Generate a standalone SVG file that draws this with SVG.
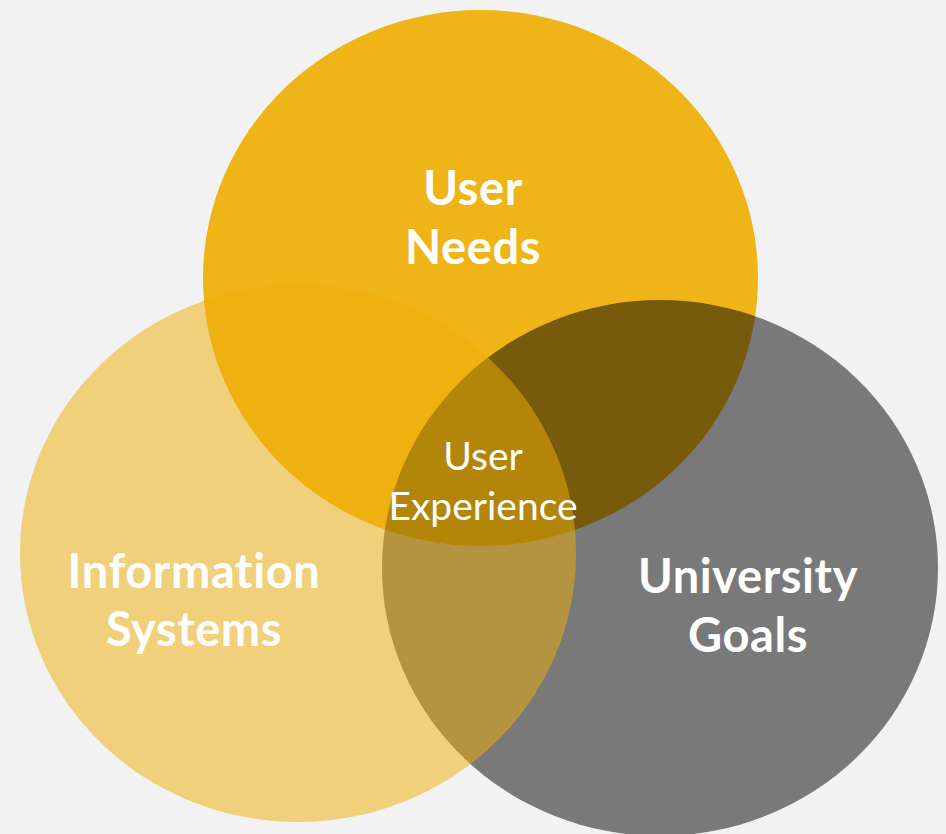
<svg xmlns="http://www.w3.org/2000/svg" width="946" height="834" viewBox="0 0 946 834">
<style>
.big{font-family:Lato,"Open Sans","Liberation Sans",sans-serif;font-weight:700;font-size:47px;letter-spacing:0.6px;fill:#FFFFFF;text-anchor:middle;font-variant-ligatures:none}
.small{font-family:Lato,"Open Sans","Liberation Sans",sans-serif;font-weight:400;font-size:39px;fill:#FFFFFF;text-anchor:middle;font-variant-ligatures:none}
</style>
<rect x="0" y="0" width="946" height="834" fill="#F2F2F2"/>
<g id="user-needs">
<ellipse cx="480.5" cy="278" rx="277.5" ry="268" fill="#EEAF07" fill-opacity="0.93"/>
</g>
<g id="university-goals">
<ellipse cx="660" cy="568" rx="278" ry="268" fill="#000000" fill-opacity="0.5"/>
</g>
<g id="information-systems">
<ellipse cx="298" cy="553.5" rx="278" ry="268.5" fill="#EEAF07" fill-opacity="0.51"/>
</g>
<g id="labels">
<text class="big" x="473" y="205">User</text>
<text class="big" x="473" y="264">Needs</text>
<text class="big" x="194" y="588">Information</text>
<text class="big" x="194" y="646">Systems</text>
<text class="big" x="748" y="593">University</text>
<text class="big" x="748" y="652">Goals</text>
<text class="small" x="483" y="470">User</text>
<text class="small" x="483" y="520">Experience</text>
</g>
</svg>
